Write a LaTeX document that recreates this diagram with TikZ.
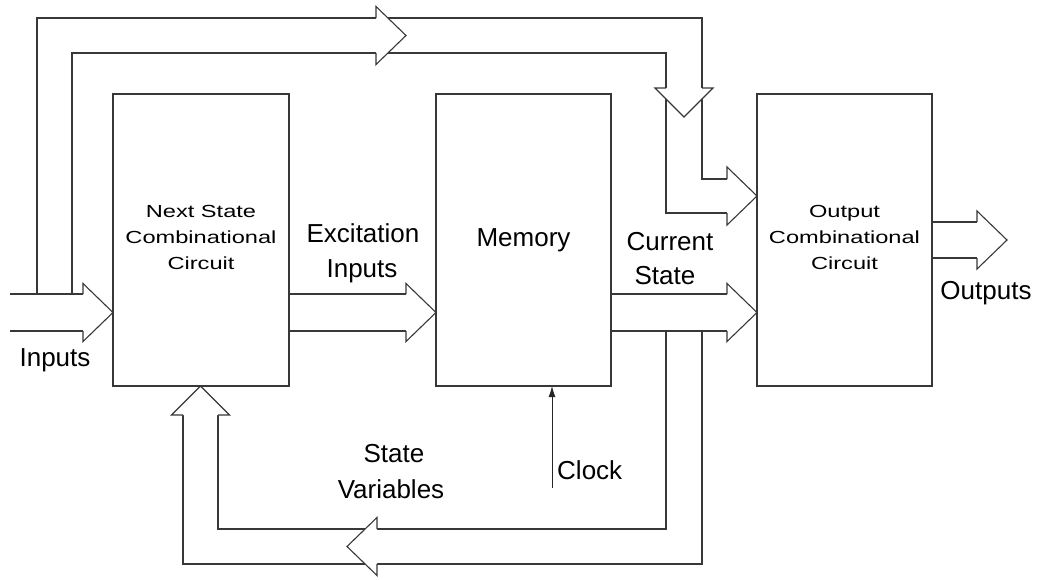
\documentclass[tikz,border=0pt]{standalone}
\usepackage{fontspec}
\setmainfont{Liberation Sans}
\usepackage{graphicx}
\usetikzlibrary{arrows.meta}
\newcommand\sx[1]{\scalebox{1.35}[1]{#1}}
% wide arrow heads: right, left, up, down
\newcommand\headR[3]{% base x, centre y, half band width
  \fill[white] (#1,#2-29) -- (#1+30,#2) -- (#1,#2+29) -- cycle;
  \draw[band] (#1,#2-#3) -- (#1,#2-29) -- (#1+30,#2) -- (#1,#2+29) -- (#1,#2+#3);}
\newcommand\headL[3]{% base x, centre y, half band width
  \fill[white] (#1,#2-29) -- (#1-30,#2) -- (#1,#2+29) -- cycle;
  \draw[band] (#1,#2-#3) -- (#1,#2-29) -- (#1-30,#2) -- (#1,#2+29) -- (#1,#2+#3);}
\newcommand\headD[3]{% centre x, base y, half band width
  \fill[white] (#1-29,#2) -- (#1,#2+29) -- (#1+29,#2) -- cycle;
  \draw[band] (#1-#3,#2) -- (#1-29,#2) -- (#1,#2+29) -- (#1+29,#2) -- (#1+#3,#2);}
\newcommand\headU[3]{% centre x, base y, half band width
  \fill[white] (#1-29,#2) -- (#1,#2-29) -- (#1+29,#2) -- cycle;
  \draw[band] (#1-#3,#2) -- (#1-29,#2) -- (#1,#2-29) -- (#1+29,#2) -- (#1+#3,#2);}
\tikzset{
  band/.style={draw=black!78, line width=1.1pt},
  blk/.style={draw=black!78, line width=1.1pt, minimum height=292pt, inner sep=0pt, outer sep=0pt, align=center},
  big/.style={font=\fontsize{26}{30}\selectfont, inner sep=0pt, anchor=base},
  small/.style={font=\fontsize{17.5}{26}\selectfont, inner sep=0pt, align=center}
}
\begin{document}
\begin{tikzpicture}[x=1pt,y=-1pt]
\useasboundingbox (0,0) rectangle (1044,579);
% wide arrow bands
\draw[band] (37,294) -- (37,18) -- (702,18) -- (702,179) -- (727,179);
\draw[band] (72,294) -- (72,53) -- (666,53) -- (666,213) -- (727,213);
\draw[band] (10,294) -- (83,294);
\draw[band] (10,331) -- (83,331);
\draw[band] (289,294) -- (406,294);
\draw[band] (289,331) -- (406,331);
\draw[band] (611,294) -- (727,294);
\draw[band] (611,331) -- (727,331);
\draw[band] (666,331) -- (666,529) -- (218,529) -- (218,415);
\draw[band] (702,331) -- (702,564) -- (183,564) -- (183,415);
\draw[band] (932,222) -- (977,222);
\draw[band] (932,258) -- (977,258);
% heads
\headR{376}{35.5}{17.5}
\headD{684}{88}{18}
\headR{727}{196}{17}
\headR{83}{312.5}{18.5}
\headR{406}{312.5}{18.5}
\headR{727}{312.5}{18.5}
\headR{977}{240}{18}
\headU{200.5}{415}{17.5}
\headL{377}{546.5}{17.5}
% blocks
\node[blk, minimum width=176pt] (ns) at (201,240) {};
\node[blk, minimum width=175pt, font=\fontsize{26}{30}\selectfont] (mem) at (523.5,240) {Memory};
\node[blk, minimum width=175pt] (out) at (844.5,240) {};
\node[small] (nslbl) at (201,237.5) {\sx{Next State}\\\sx{Combinational}\\\sx{Circuit}};
\node[small] (outlbl) at (844.5,237.5) {\sx{Output}\\\sx{Combinational}\\\sx{Circuit}};
% clock
\coordinate (clk) at (552,488);
\draw[black!85, line width=1pt, -{Latex[length=11pt,width=7pt]}] (clk) -- (mem.south -| clk);
% labels
\node[big] (lin) at (55,366) {Inputs};
\node[big] (lex1) at (363,242) {Excitation};
\node[big] (lex2) at (362,277) {Inputs};
\node[big] (lcs1) at (670,250) {Current};
\node[big] (lcs2) at (665,284) {State};
\node[big] (lout) at (986,299) {Outputs};
\node[big, anchor=base west] (lclk) at (557,479) {Clock};
\node[big] (lsv1) at (394,462) {State};
\node[big] (lsv2) at (391,498) {Variables};
\end{tikzpicture}
\end{document}
